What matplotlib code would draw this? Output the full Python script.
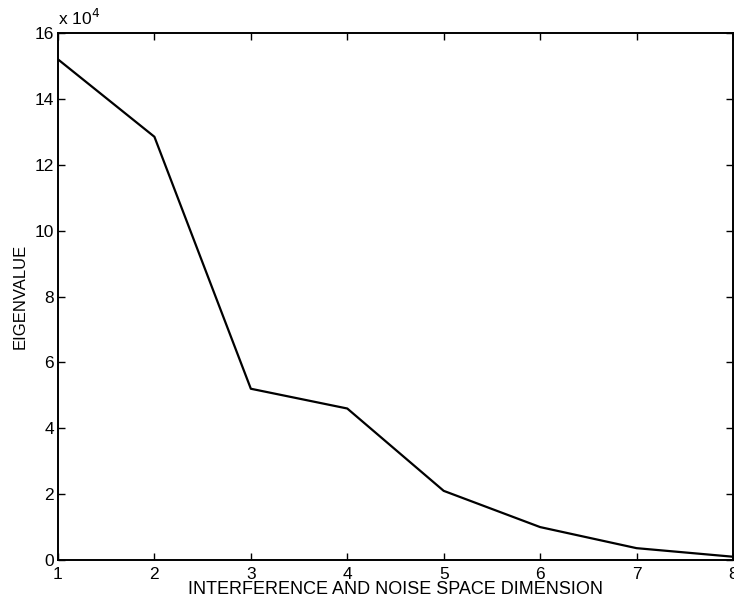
import numpy as np
import matplotlib.pyplot as plt
from matplotlib.ticker import FuncFormatter

plt.rcParams['font.family'] = ['Liberation Sans', 'DejaVu Sans']

# eigenvalues vs. interference + noise space dimension
dimension = [1, 2, 3, 4, 5, 6, 7, 8]
eigenvalue = [152000, 128500, 52000, 46000, 21000, 10000, 3600, 1000]

fig = plt.figure(figsize=(7.34, 6.07), dpi=100)
ax = fig.add_axes([0.079, 0.0774, 0.9196, 0.8682])

ax.plot(dimension, eigenvalue, color='black', linewidth=1.6)

ax.set_xlim(1, 8)
ax.set_ylim(0, 160000)
ax.set_xticks(range(1, 9))
ax.set_yticks(np.arange(0, 160001, 20000))
ax.yaxis.set_major_formatter(FuncFormatter(lambda v, p: '%d' % round(v / 1e4)))
ax.tick_params(direction='in', top=True, right=True, length=5, width=1,
               labelsize=12.5)
ax.tick_params(axis='x', pad=5)
ax.tick_params(axis='y', pad=3)
for s in ax.spines.values():
    s.set_linewidth(1.4)

ax.set_xlabel('INTERFERENCE AND NOISE SPACE DIMENSION', fontsize=13, labelpad=-1)
ax.set_ylabel('EIGENVALUE', fontsize=12, labelpad=5)
ax.text(0, 1.01, r'x 10$^4$', transform=ax.transAxes, fontsize=12.5,
        ha='left', va='bottom')

fig.savefig('out.png', dpi=100)
